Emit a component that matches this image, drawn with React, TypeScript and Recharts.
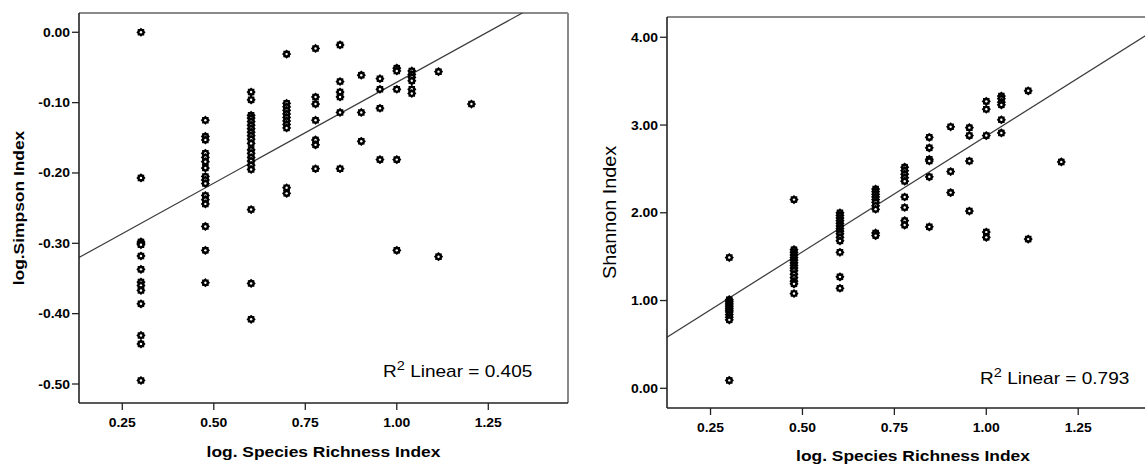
import React from "react";
import { ScatterChart, Scatter, XAxis, YAxis, ReferenceLine } from "recharts";

// log10 of species richness (one column of points per level)
const richness = [0.301, 0.477, 0.602, 0.699, 0.778, 0.845, 0.903, 0.954, 1.0, 1.041, 1.114, 1.204];

// log.Simpson index, one list per richness level
const simpson = [
  [0.0, -0.207, -0.298, -0.3, -0.302, -0.318, -0.337, -0.355, -0.36, -0.367, -0.386, -0.431, -0.443, -0.495],
  [-0.125, -0.148, -0.153, -0.172, -0.178, -0.184, -0.193, -0.205, -0.21, -0.215, -0.232, -0.238, -0.244, -0.276, -0.31, -0.356],
  [-0.085, -0.096, -0.118, -0.122, -0.127, -0.132, -0.137, -0.142, -0.147, -0.152, -0.158, -0.167, -0.172, -0.178, -0.183, -0.189, -0.195, -0.252, -0.357, -0.408],
  [-0.031, -0.101, -0.106, -0.111, -0.116, -0.121, -0.126, -0.131, -0.136, -0.221, -0.229],
  [-0.023, -0.092, -0.102, -0.125, -0.153, -0.16, -0.194],
  [-0.018, -0.07, -0.085, -0.092, -0.114, -0.194],
  [-0.061, -0.114, -0.155],
  [-0.066, -0.081, -0.108, -0.181],
  [-0.051, -0.055, -0.081, -0.181, -0.31],
  [-0.055, -0.06, -0.064, -0.069, -0.081, -0.087],
  [-0.056, -0.319],
  [-0.102],
];

// Shannon index, one list per richness level
const shannon = [
  [1.49, 1.01, 0.99, 0.97, 0.95, 0.93, 0.91, 0.89, 0.87, 0.84, 0.81, 0.78, 0.09],
  [2.15, 1.58, 1.55, 1.52, 1.49, 1.46, 1.43, 1.4, 1.37, 1.34, 1.3, 1.26, 1.22, 1.19, 1.08],
  [2.0, 1.97, 1.94, 1.91, 1.88, 1.85, 1.82, 1.79, 1.76, 1.72, 1.68, 1.55, 1.27, 1.14],
  [2.27, 2.24, 2.21, 2.18, 2.15, 2.12, 2.08, 2.04, 1.77, 1.74],
  [2.52, 2.48, 2.44, 2.4, 2.36, 2.18, 2.06, 1.91, 1.86],
  [2.86, 2.74, 2.61, 2.59, 2.41, 1.84],
  [2.98, 2.47, 2.23],
  [2.97, 2.88, 2.59, 2.02],
  [3.27, 3.18, 2.88, 1.78, 1.72],
  [3.33, 3.3, 3.26, 3.23, 3.06, 2.91],
  [3.39, 1.7],
  [2.58],
];

const xTicks = [0.25, 0.5, 0.75, 1.0, 1.25];
const simpsonTicks = [0, -0.1, -0.2, -0.3, -0.4, -0.5];
const shannonTicks = [0, 1, 2, 3, 4];

const simpsonFit = { slope: 0.287, intercept: -0.358, r2: "0.405" };
const shannonFit = { slope: 2.64, intercept: 0.235, r2: "0.793" };

const FONT = "'Liberation Sans', Arial, sans-serif";
const SX = 1.16; // the original glyphs are a bit wider than Arial

const toPoints = (cols: number[][]) =>
  richness.flatMap((x, i) => cols[i].map((y) => ({ x, y })));

const SText = ({ x, y, rotate, sx = SX, anchor = "middle", size, weight = "normal", children }: any) => (
  <text
    transform={`translate(${x},${y})${rotate ? " rotate(-90)" : ""} scale(${sx},1)`}
    textAnchor={anchor}
    fontFamily={FONT}
    fontSize={size}
    fontWeight={weight}
    fill="#000"
  >
    {children}
  </text>
);

const XTick = (p: any) => (
  <SText x={p.x} y={p.y + 15} size={12} weight="bold">
    {Number(p.payload.value).toFixed(2)}
  </SText>
);

const YTick = (p: any) => (
  <SText x={p.x} y={p.y + 4.5} anchor="end" size={12} weight="bold">
    {Math.abs(p.payload.value) < 1e-9 ? "0.00" : Number(p.payload.value).toFixed(2)}
  </SText>
);

// SPSS-style asterisk marker: spiky black ring with a small white eye
const StarMark = (props: any) => {
  const { cx, cy } = props;
  if (cx == null || cy == null) return null;
  const pts: string[] = [];
  for (let i = 0; i < 16; i++) {
    const a = (i * Math.PI) / 8;
    const r = i % 2 ? 3.6 : 4.6;
    pts.push(`${(cx + r * Math.cos(a)).toFixed(2)},${(cy + r * Math.sin(a)).toFixed(2)}`);
  }
  return (
    <g>
      <polygon points={pts.join(" ")} fill="#000" />
      <circle cx={cx} cy={cy} r={1.2} fill="#fff" />
    </g>
  );
};

function Panel({ width, margin, yWidth, xHeight, xDomain, yDomain, yTicks, data, fit }: any) {
  const seg = [
    { x: xDomain[0], y: fit.intercept + fit.slope * xDomain[0] },
    { x: xDomain[1], y: fit.intercept + fit.slope * xDomain[1] },
  ];
  return (
    <ScatterChart width={width} height={464} margin={margin}>
      <XAxis
        dataKey="x"
        type="number"
        domain={xDomain}
        ticks={xTicks}
        allowDataOverflow
        height={xHeight}
        tickSize={7}
        axisLine={{ stroke: "#222", strokeWidth: 1.6 }}
        tickLine={{ stroke: "#222", strokeWidth: 1.3 }}
        tick={XTick}
      />
      <YAxis
        dataKey="y"
        type="number"
        domain={yDomain}
        ticks={yTicks}
        allowDataOverflow
        width={yWidth}
        tickSize={7}
        axisLine={{ stroke: "#222", strokeWidth: 1.6 }}
        tickLine={{ stroke: "#222", strokeWidth: 1.3 }}
        tick={YTick}
      />
      {/* grey frame on top and right */}
      <ReferenceLine y={yDomain[1]} stroke="#8a8a8a" strokeWidth={2} ifOverflow="visible" />
      <ReferenceLine x={xDomain[1]} stroke="#8a8a8a" strokeWidth={2} ifOverflow="visible" />
      <ReferenceLine segment={seg} ifOverflow="hidden" stroke="#3c3c3c" strokeWidth={1.2} />
      <Scatter data={data} shape={StarMark} isAnimationActive={false} />
    </ScatterChart>
  );
}

const left = { l: 79, t: 13, r: 568, b: 403 };
const right = { l: 667, t: 17, r: 1158, b: 408 };

export default function App() {
  return (
    <div
      style={{
        position: "absolute",
        left: 0,
        top: 0,
        width: 1145,
        height: 464,
        overflow: "hidden",
        background: "#fff",
      }}
    >
      <div style={{ position: "absolute", left: 0, top: 0 }}>
        <Panel
          width={600}
          margin={{ top: left.t, right: 600 - left.r, bottom: 0, left: 0 }}
          yWidth={left.l}
          xHeight={464 - left.b}
          xDomain={[0.1317, 1.4678]}
          yDomain={[-0.527, 0.0274]}
          yTicks={simpsonTicks}
          data={toPoints(simpson)}
          fit={simpsonFit}
        />
      </div>
      <div style={{ position: "absolute", left: 600, top: 0 }}>
        <Panel
          width={570}
          margin={{ top: right.t, right: 1170 - right.r, bottom: 0, left: 0 }}
          yWidth={right.l - 600}
          xHeight={464 - right.b}
          xDomain={[0.1316, 1.467]}
          yDomain={[-0.2245, 4.231]}
          yTicks={shannonTicks}
          data={toPoints(shannon)}
          fit={shannonFit}
        />
      </div>
      <svg
        width={1145}
        height={464}
        style={{ position: "absolute", left: 0, top: 0, pointerEvents: "none" }}
      >
        <SText x={23.5} y={(left.t + left.b) / 2} rotate size={15} weight="bold">
          log.Simpson Index
        </SText>
        <SText x={(left.l + left.r) / 2} y={457} size={15} weight="bold">
          log. Species Richness Index
        </SText>
        <SText x={383} y={377} anchor="start" size={17} sx={1.12}>
          R<tspan fontSize={13} dy={-7}>2</tspan>
          <tspan dy={7}>{`  Linear = ${simpsonFit.r2}`}</tspan>
        </SText>

        <SText x={616} y={(right.t + right.b) / 2} rotate size={18} sx={1.1}>
          Shannon Index
        </SText>
        <SText x={913} y={461} size={15} weight="bold">
          log. Species Richness Index
        </SText>
        <SText x={980} y={384} anchor="start" size={17} sx={1.12}>
          R<tspan fontSize={13} dy={-7}>2</tspan>
          <tspan dy={7}>{`  Linear = ${shannonFit.r2}`}</tspan>
        </SText>
      </svg>
    </div>
  );
}
